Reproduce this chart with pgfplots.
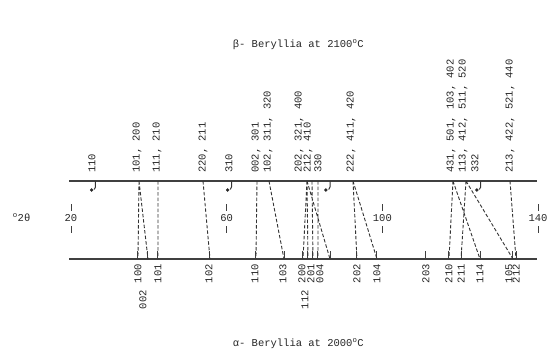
\documentclass[border=0pt]{standalone}
\usepackage{pgfplots}
\pgfplotsset{compat=1.18}
\usepackage{fontspec}
\setmainfont{Liberation Mono}
\begin{document}
\begin{tikzpicture}[font=\fontsize{10.5}{12}\selectfont,
  lab/.style={inner sep=0pt, text=black!85},
  tl/.style={lab, rotate=90, anchor=west},
  bl/.style={lab, rotate=90, anchor=east}]
\begin{axis}[width=549pt,height=357pt,scale only axis,
  xmin=1.757,xmax=142.82,ymin=0,ymax=357,y dir=reverse,
  axis lines=none, clip=false, unbounded coords=jump]
\path (rel axis cs:0,0) rectangle (rel axis cs:1,1);
% main lines
\addplot[black!75, line width=1.3pt] coordinates {(19.49,181) (139.73,181)};
\addplot[black!75, line width=1.3pt] coordinates {(19.49,259) (139.73,259)};
% bottom ticks
\addplot[black!75, line width=1pt] coordinates {
(37.21,251) (37.21,259) (37.21,inf)
(39.78,251) (39.78,259) (39.78,inf)
(42.35,251) (42.35,259) (42.35,inf)
(55.71,251) (55.71,259) (55.71,inf)
(67.53,251) (67.53,259) (67.53,inf)
(74.73,251) (74.73,259) (74.73,inf)
(79.61,251) (79.61,259) (79.61,inf)
(80.89,251) (80.89,259) (80.89,inf)
(82.18,251) (82.18,259) (82.18,inf)
(83.46,251) (83.46,259) (83.46,inf)
(86.55,251) (86.55,259) (86.55,inf)
(93.48,251) (93.48,259) (93.48,inf)
(98.62,251) (98.62,259) (98.62,inf)
(111.21,251) (111.21,259) (111.21,inf)
(117.12,251) (117.12,259) (117.12,inf)
(120.21,251) (120.21,259) (120.21,inf)
(125.09,251) (125.09,259) (125.09,inf)
(133.56,251) (133.56,259) (133.56,inf)
(134.34,251) (134.34,259)};
% dashed connectors beta -> alpha
\addplot[black!80, line width=0.9pt, dash pattern=on 3.5pt off 2pt] coordinates {
(37.47,181) (37.21,259) (nan,inf)
(37.47,181) (39.78,259) (nan,inf)
(42.35,181) (42.35,259) (nan,inf)
(53.92,181) (55.71,259) (nan,inf)
(67.79,181) (67.53,259) (nan,inf)
(70.87,181) (74.73,259) (nan,inf)
(80.64,181) (79.61,259) (nan,inf)
(80.64,181) (80.89,259) (nan,inf)
(81.92,181) (82.18,259) (nan,inf)
(83.46,181) (83.46,259) (nan,inf)
(80.64,181) (86.55,259) (nan,inf)
(92.46,181) (93.48,259) (nan,inf)
(92.46,181) (98.62,259) (nan,inf)
(118.15,181) (117.12,259) (nan,inf)
(118.15,181) (125.09,259) (nan,inf)
(121.49,181) (120.21,259) (nan,inf)
(121.49,181) (133.56,259) (nan,inf)
(132.80,181) (134.34,259)};
% hooks (unobserved lines)
\addplot[black!80, line width=1pt] coordinates {
(26.29,181) (26.29,187) (25.95,189.5) (nan,inf)
(61.24,181) (61.24,187) (60.90,189.5) (nan,inf)
(86.55,181) (86.55,187) (86.21,189.5) (nan,inf)
(125.27,181) (125.27,187) (124.93,189.5)};
\addplot[only marks, mark=*, mark size=1.5pt, black!85] coordinates {
(25.30,190) (60.25,190) (85.51,190) (124.28,190)};
% 2theta scale
\addplot[black!75, line width=0.8pt] coordinates {
(20,204) (20,211) (nan,inf) (20,226) (20,233) (nan,inf)
(60,204) (60,211) (nan,inf) (60,226) (60,233) (nan,inf)
(100,204) (100,211) (nan,inf) (100,226) (100,233) (nan,inf)
(140,204) (140,211) (nan,inf) (140,226) (140,233)};
\node[lab] at (axis cs:20,218.5) {20};
\node[lab] at (axis cs:60,218.5) {60};
\node[lab] at (axis cs:100,218.5) {100};
\node[lab] at (axis cs:140,218.5) {140};
\node[lab] at (axis cs:7.3,218) {\textsuperscript{o}2θ};
% titles
\node[lab] at (axis cs:78.4,45) {β- Beryllia at 2100\textsuperscript{o}C};
\node[lab] at (axis cs:78.4,344) {α- Beryllia at 2000\textsuperscript{o}C};
% beta labels
\node[tl] at (axis cs:25.40,173) {110};
\node[tl] at (axis cs:36.96,173) {101, 200};
\node[tl] at (axis cs:42.10,173) {111, 210};
\node[tl] at (axis cs:53.92,173) {220, 211};
\node[tl] at (axis cs:60.60,173) {310};
\node[tl] at (axis cs:67.53,173) {002, 301};
\node[tl] at (axis cs:70.62,173) {102, 311, 320};
\node[tl] at (axis cs:78.58,173) {202, 321, 400};
\node[tl] at (axis cs:80.89,173) {212, 410};
\node[tl] at (axis cs:83.46,173) {330};
\node[tl] at (axis cs:91.94,173) {222, 411, 420};
\node[tl] at (axis cs:117.64,173) {431, 501, 103, 402};
\node[tl] at (axis cs:120.72,173) {113, 412, 511, 520};
\node[tl] at (axis cs:123.80,173) {332};
\node[tl] at (axis cs:132.80,173) {213, 422, 521, 440};
% alpha labels
\node[bl] at (axis cs:37.21,264) {100};
\node[bl] at (axis cs:38.50,290) {002};
\node[bl] at (axis cs:42.35,264) {101};
\node[bl] at (axis cs:55.46,264) {102};
\node[bl] at (axis cs:67.28,264) {110};
\node[bl] at (axis cs:74.47,264) {103};
\node[bl] at (axis cs:79.35,264) {200};
\node[bl] at (axis cs:80.12,290) {112};
\node[bl] at (axis cs:81.66,264) {201};
\node[bl] at (axis cs:83.98,264) {004};
\node[bl] at (axis cs:93.48,264) {202};
\node[bl] at (axis cs:98.62,264) {104};
\node[bl] at (axis cs:111.21,264) {203};
\node[bl] at (axis cs:117.12,264) {210};
\node[bl] at (axis cs:120.21,264) {211};
\node[bl] at (axis cs:125.09,264) {114};
\node[bl] at (axis cs:132.54,264) {105};
\node[bl] at (axis cs:134.34,264) {212};
\end{axis}
\end{tikzpicture}
\end{document}
